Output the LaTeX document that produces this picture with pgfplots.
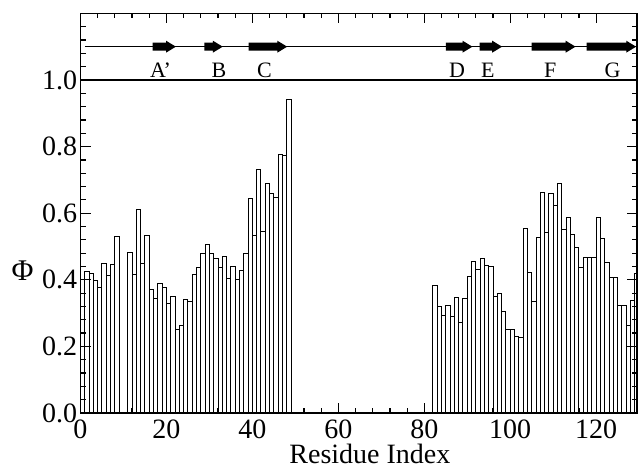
\documentclass[border=0pt]{standalone}
\usepackage{fontspec}
\setmainfont{Liberation Serif}
\usepackage{pgfplots}
\pgfplotsset{compat=1.18}

% beta strand: start, start of head, tip
\newcommand{\strand}[3]{\addplot[fill=black, draw=none] coordinates {(#1,1.088) (#2,1.088) (#2,1.082) (#3,1.1) (#2,1.118) (#2,1.112) (#1,1.112)} -- cycle;}

\begin{document}
\begin{tikzpicture}
\begin{axis}[
    scale only axis,
    width=278.25pt, height=199.8pt,
    xmin=0, xmax=129.5, ymin=0, ymax=1.2,
    axis line style={line width=0.6pt},
    xtick={0,20,...,120}, minor x tick num=4,
    ytick={0,0.2,0.4,0.6,0.8,1.0},
    minor ytick={0.04,0.08,...,1.16},
    tick align=inside,
    major tick length=5pt, minor tick length=2.5pt,
    tick style={line width=0.6pt, black},
    every tick label/.append style={font=\fontsize{14}{16}\selectfont},
    /pgf/number format/assume math mode=true,
    xticklabel style={inner sep=3.3pt},
    yticklabel style={/pgf/number format/fixed, /pgf/number format/fixed zerofill,
      /pgf/number format/precision=1, inner sep=1.5pt},
    xlabel={Residue Index},
    xlabel style={at={(axis description cs:0.52,-0.078)}, anchor=north, inner sep=0pt, font=\fontsize{14}{16}\selectfont},
    ylabel={Φ},
    ylabel style={rotate=-90, at={(axis description cs:-0.104,0.357)}, anchor=center, font=\fontsize{15}{16}\selectfont},
    axis on top,
]
% phi values, bars span [i, i+1]
\addplot[ybar interval, draw=black, fill=white, line width=0.5pt] coordinates {
  (1,0.425) (2,0.420) (3,0.399) (4,0.378) (5,0.449) (6,0.413) (7,0.445) (8,0.530) (9,0)
};
\addplot[ybar interval, draw=black, fill=white, line width=0.5pt] coordinates {
  (11,0.482) (12,0.417) (13,0.612) (14,0.450) (15,0.533) (16,0.370) (17,0.344)
  (18,0.390) (19,0.378) (20,0.330) (21,0.350) (22,0.252) (23,0.262) (24,0.342)
  (25,0.334) (26,0.417) (27,0.438) (28,0.478) (29,0.505) (30,0.479) (31,0.463)
  (32,0.437) (33,0.471) (34,0.404) (35,0.440) (36,0.401) (37,0.428) (38,0.479)
  (39,0.645) (40,0.534) (41,0.730) (42,0.544) (43,0.690) (44,0.660) (45,0.647)
  (46,0.775) (47,0.773) (48,0.942) (49,0)
};
\addplot[ybar interval, draw=black, fill=white, line width=0.5pt] coordinates {
  (82,0.382) (83,0.321) (84,0.294) (85,0.323) (86,0.289) (87,0.347) (88,0.271)
  (89,0.344) (90,0.411) (91,0.455) (92,0.431) (93,0.463) (94,0.442) (95,0.439)
  (96,0.351) (97,0.360) (98,0.305) (99,0.252) (100,0.252) (101,0.229) (102,0.228)
  (103,0.555) (104,0.421) (105,0.335) (106,0.527) (107,0.662) (108,0.543) (109,0.660)
  (110,0.624) (111,0.688) (112,0.550) (113,0.587) (114,0.535) (115,0.497) (116,0.438)
  (117,0.466) (118,0.466) (119,0.466) (120,0.587) (121,0.524) (122,0.451) (123,0.408)
  (124,0.408) (125,0.322) (126,0.322) (127,0.264) (128,0.339) (129,0.420) (130,0)
};

% separator and secondary structure
\addplot[black, line width=0.6pt] coordinates {(0,1) (129.5,1)};
\addplot[black, line width=0.6pt] coordinates {(1,1.1) (129.5,1.1)};
\strand{16.8}{19.9}{22.2}
\strand{28.8}{30.8}{33.1}
\strand{39.1}{45.8}{48.1}
\strand{85.0}{88.9}{91.2}
\strand{92.9}{95.8}{98.1}
\strand{105.0}{112.9}{115.2}
\strand{117.8}{127.0}{129.3}

\begin{scope}[every node/.style={anchor=base, font=\fontsize{11}{12}\selectfont}]
\node at (axis cs:18.6,1.008) {A'};
\node at (axis cs:32.2,1.008) {B};
\node at (axis cs:42.8,1.008) {C};
\node at (axis cs:87.6,1.008) {D};
\node at (axis cs:94.8,1.008) {E};
\node at (axis cs:109.3,1.008) {F};
\node at (axis cs:123.8,1.008) {G};
\end{scope}

\coordinate (sw) at (rel axis cs:0,0);
\coordinate (ne) at (rel axis cs:1,1);
\end{axis}
\pgfresetboundingbox
\path ([xshift=-40.25pt,yshift=-27.5pt]sw) rectangle ([xshift=1.5pt,yshift=6.7pt]ne);
\end{tikzpicture}
\end{document}
